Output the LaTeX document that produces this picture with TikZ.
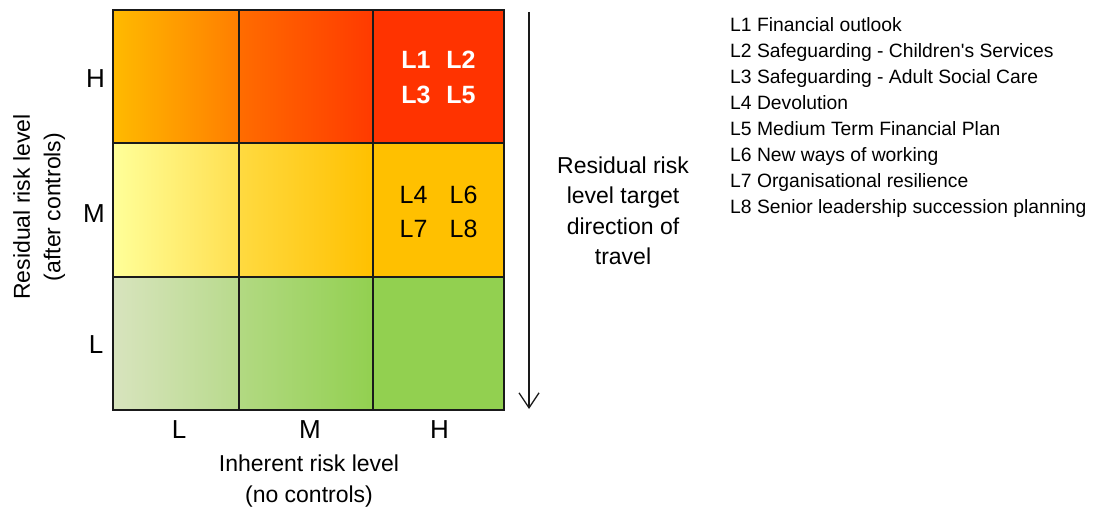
\documentclass[tikz,border=0pt]{standalone}
\usepackage{fontspec}
\setmainfont{Liberation Sans}
\usetikzlibrary{arrows.meta}
\definecolor{hA}{HTML}{FFBA00}
\definecolor{hB}{HTML}{FF7E00}
\definecolor{hC}{HTML}{FF6C00}
\definecolor{hD}{HTML}{FF3A00}
\definecolor{hE}{HTML}{FF3300}
\definecolor{mA}{HTML}{FFFF99}
\definecolor{mB}{HTML}{FFDF50}
\definecolor{mC}{HTML}{FFDA40}
\definecolor{mD}{HTML}{FFC000}
\definecolor{lA}{HTML}{D8E4BE}
\definecolor{lB}{HTML}{B8DA8C}
\definecolor{lC}{HTML}{B2D982}
\definecolor{lD}{HTML}{92D050}
\definecolor{gridc}{HTML}{1A1A1A}
\begin{document}
\begin{tikzpicture}[x=1pt,y=-1pt,
  cell/.style={draw=gridc,line width=1.5pt,inner sep=0pt,outer sep=0pt,anchor=north west},
  axl/.style={inner sep=0pt,anchor=base,font=\fontsize{26}{30}\selectfont},
  cellbold/.style={inner sep=0pt,anchor=base,text=white,font=\fontsize{25}{30}\selectfont\bfseries},
  cellreg/.style={inner sep=0pt,anchor=base,text=black,font=\fontsize{25}{30}\selectfont},
  title/.style={inner sep=0pt,align=center,font=\fontsize{23}{30.5}\selectfont}]
\useasboundingbox (0,0) rectangle (1094,511);
% top row
\node[cell,left color=hA,right color=hB,minimum width=126pt,minimum height=133pt] (c11) at (113,10) {};
\node[cell,left color=hC,right color=hD,minimum width=134pt,minimum height=133pt] (c12) at (239,10) {};
\node[cell,fill=hE,minimum width=131pt,minimum height=133pt] (c13) at (373,10) {};
% middle row
\node[cell,left color=mA,right color=mB,minimum width=126pt,minimum height=134pt] (c21) at (113,143) {};
\node[cell,left color=mC,right color=mD,minimum width=134pt,minimum height=134pt] (c22) at (239,143) {};
\node[cell,fill=mD,minimum width=131pt,minimum height=134pt] (c23) at (373,143) {};
% bottom row
\node[cell,left color=lA,right color=lB,minimum width=126pt,minimum height=133pt] (c31) at (113,277) {};
\node[cell,left color=lC,right color=lD,minimum width=134pt,minimum height=133pt] (c32) at (239,277) {};
\node[cell,fill=lD,minimum width=131pt,minimum height=133pt] (c33) at (373,277) {};
% cell labels
\node[cellbold] (t1) at (416,68) {L1};
\node[cellbold] (t2) at (461,68) {L2};
\node[cellbold] (t3) at (416,103) {L3};
\node[cellbold] (t5) at (461,103) {L5};
\node[cellreg] (t4) at (413.5,203) {L4};
\node[cellreg] (t6) at (463.5,203) {L6};
\node[cellreg] (t7) at (413.5,237) {L7};
\node[cellreg] (t8) at (463.5,237) {L8};
% axis letters
\node[axl] (yH) at (95.5,87) {H};
\node[axl] (yM) at (94,222) {M};
\node[axl] (yL) at (96,353) {L};
\node[axl] (xL) at (179,438) {L};
\node[axl] (xM) at (310,438) {M};
\node[axl] (xH) at (439.5,438) {H};
% axis titles
\node[title,anchor=north] (xt) at (309,455) {Inherent risk level\\(no controls)};
\node[title,anchor=north,rotate=90] (yt) at (13,207) {Residual risk level\\(after controls)};
% arrow
\coordinate (arrTop) at (529,12);
\coordinate (arrBot) at (529,409);
\draw[draw=gridc,line width=1.3pt,-{Straight Barb[length=15pt,width=20pt,line width=1.3pt]}] (arrTop) -- (arrBot);
\node[title,anchor=north] (dir) at (623,156.5) {Residual risk\\level target\\direction of\\travel};
% legend
\node[inner sep=0pt,anchor=north west,align=left,font=\fontsize{19.3}{26.1}\selectfont] (leg) at (730,17)
{L1 Financial outlook\\
L2 Safeguarding - Children\textquotesingle s Services\\
L3 Safeguarding - Adult Social Care\\
L4 Devolution\\
L5 Medium Term Financial Plan\\
L6 New ways of working\\
L7 Organisational resilience\\
L8 Senior leadership succession planning};
\end{tikzpicture}
\end{document}
